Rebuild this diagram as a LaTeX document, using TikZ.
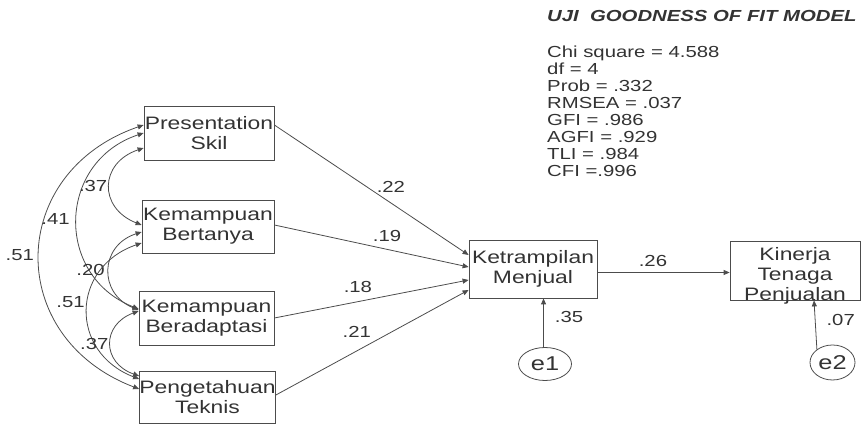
\documentclass[tikz,border=0pt]{standalone}
\usepackage{fontspec}
\setmainfont{Liberation Sans}[FakeStretch=1.27]
\usetikzlibrary{arrows.meta, shapes.geometric}

\begin{document}
\begin{tikzpicture}[x=1pt, y=1pt, >={Triangle[length=6pt, width=5pt]},
    every node/.style={text=black!80, inner sep=1pt, font=\fontsize{16}{17}\selectfont},
    var/.style={draw=black!70, line width=.8pt, inner sep=0pt, align=center, font=\fontsize{18}{20}\selectfont},
    err/.style={draw=black!70, line width=.8pt, ellipse, inner sep=0pt, font=\fontsize{20}{22}\selectfont},
    link/.style={black!70, line width=.8pt}]
  \useasboundingbox (0, 0) rectangle (862, 425);
  \node [var, minimum width=130pt, minimum height=54pt] (ps) at (209, 292) {Presentation\\Skil};
  \node [var, minimum width=132pt, minimum height=53pt] (kb) at (208, 198.5) {Kemampuan\\Bertanya};
  \node [var, minimum width=135pt, minimum height=54pt] (ka) at (206.5, 107) {Kemampuan\\Beradaptasi};
  \node [var, minimum width=135pt, minimum height=52pt] (pgt) at (207.5, 28) {Pengetahuan\\Teknis};
  \node [var, minimum width=128pt, minimum height=58pt] (km) at (533, 156) {Ketrampilan\\Menjual};
  \node [var, minimum width=130pt, minimum height=59pt] (ktp) at (795, 154.5) {};
  \node [var, draw=none] (ktpt) at ([yshift=-5pt]ktp.center) {Kinerja\\Tenaga\\Penjualan};
  \node [err, minimum width=53pt, minimum height=33pt] (e1) at (545, 61) {e1};
  \node [err, minimum width=45pt, minimum height=35pt] (e2) at (832.5, 62.5) {e2};
  \node [anchor=base west, inner sep=0pt] (title) at (547, 403) {\bfseries\itshape UJI\ \ GOODNESS OF FIT MODEL};
  \node [anchor=north west, align=left, inner sep=0pt] (fit) at (547, 379)
    {Chi square = 4.588\\df = 4\\Prob = .332\\RMSEA = .037\\GFI = .986\\AGFI = .929\\TLI = .984\\CFI =.996};

  \draw [->, link] ([yshift=8pt]ps.east) -- node [pos=.6, above=9pt] {.22} ([yshift=14pt]km.west);
  \draw [->, link] ([yshift=1.5pt]kb.east) -- node [pos=.58, above=6pt] {.19} ([yshift=2pt]km.west);
  \draw [->, link] (ka.east) -- node [pos=.43, above=8pt] {.18} ([yshift=-11pt]km.west);
  \draw [->, link] ([yshift=2pt]pgt.east) -- node [pos=.42, above=12pt] {.21} ([yshift=-21pt]km.west);
  \draw [->, link] ([yshift=-3.5pt]km.east) -- node [pos=.42, above=4pt] {.26} ([yshift=-2pt]ktp.west);
  \draw [->, link] (e1.95) -- node [pos=.62, right=10pt] {.35} (e1.95 |- km.south);
  \draw [->, link] (e2.140) -- node [pos=.6, right=10pt] {.07} ([xshift=19pt]ktp.south);

  \draw [<->, link] ([yshift=8pt]ps.west) to[bend right=70, looseness=1.4] node [left=4pt] {.51} ([yshift=8pt]pgt.west);
  \draw [<->, link] (ps.west) to[bend right=70, looseness=1.32] node [left=6pt] {.41} ([yshift=9pt]ka.west);
  \draw [<->, link] ([yshift=-15pt]ps.west) to[bend right=70, looseness=1.55] node [left=1pt] {.37} ([yshift=1.5pt]kb.west);
  \draw [<->, link] ([yshift=-5.5pt]kb.west) to[bend right=70, looseness=1.44] node [left=3pt] {.20} ([yshift=8pt]ka.west);
  \draw [<->, link] ([yshift=-16.5pt]kb.west) to[bend right=70, looseness=1.41] node [pos=.45, left=2pt] {.51} ([yshift=18pt]pgt.west);
  \draw [<->, link] ([yshift=7pt]ka.west) to[bend right=70, looseness=1.56] node [left=1pt] {.37} ([yshift=21pt]pgt.west);
\end{tikzpicture}
\end{document}
